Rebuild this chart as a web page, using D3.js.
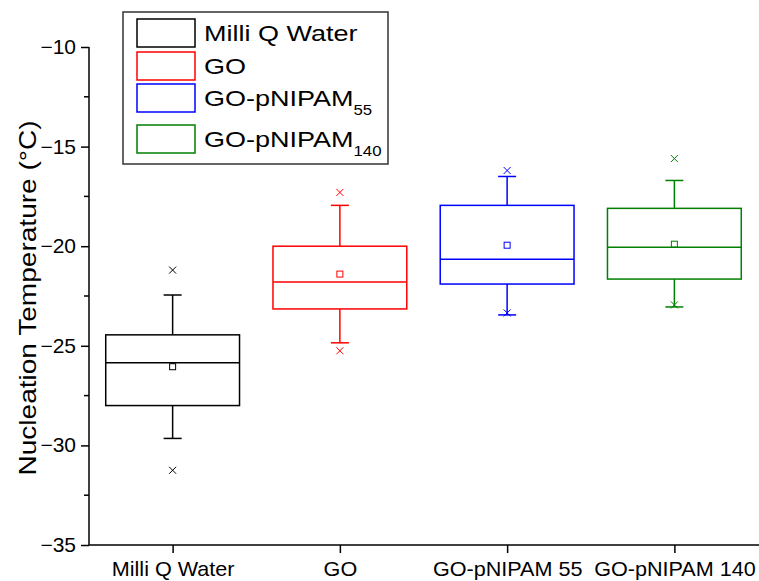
<!DOCTYPE html>
<html>
<head>
<meta charset="utf-8">
<script src="https://cdn.jsdelivr.net/npm/d3@7"></script>
<style>
  body { margin: 0; background: #fff; }
  svg { display: block; font-family: "Liberation Sans", Arial, sans-serif; }
</style>
</head>
<body>
<svg id="chart" width="759" height="581"></svg>
<script>
// categories and colours
var categories = ["Milli Q Water", "GO", "GO-pNIPAM 55", "GO-pNIPAM 140"];
var colors = ["#000000", "#ff0000", "#0000ff", "#008000"];

// box statistics (°C)
var q1 = [-28.0, -23.15, -21.9, -21.65];
var median = [-25.85, -21.8, -20.65, -20.05];
var q3 = [-24.45, -20.0, -17.95, -18.1];
var whiskerLow = [-29.65, -24.85, -23.45, -23.05];
var whiskerHigh = [-22.45, -17.95, -16.5, -16.7];
var mean = [-26.05, -21.4, -19.95, -19.9];
var minPt = [-31.25, -25.25, -23.35, -22.95];
var maxPt = [-21.2, -17.3, -16.2, -15.6];

var yTicks = [-35, -30, -25, -20, -15, -10];
var yMinor = [-32.5, -27.5, -22.5, -17.5, -12.5];

var svg = d3.select("#chart");

var x = d3.scaleLinear().domain([0.5, 4.5]).range([89, 758]);
var y = d3.scaleLinear().domain([-35, -10]).range([545, 47]);

var boxW = x(1.4) - x(0.6);
var capW = 18;

// the original text is a little wider than Arial
function widen(sel, s) {
  sel.each(function() {
    var t = d3.select(this);
    var tx = +t.attr("x") || 0, ty = +t.attr("y") || 0;
    t.attr("x", 0).attr("y", 0)
      .attr("transform", "translate(" + tx + "," + ty + ") scale(" + s + ",1)");
  });
}

// axes
var yAxis = svg.append("g").attr("transform", "translate(89,0)")
  .call(d3.axisLeft(y).tickValues(yTicks).tickSize(8).tickPadding(5).tickFormat(d3.format("d")));
yAxis.select(".domain").attr("d", "M0," + y(-10) + "V" + y(-35)).attr("stroke-width", 1.5);
yAxis.selectAll(".tick line").attr("stroke-width", 1.5);
yAxis.selectAll(".tick text").attr("font-size", 20).attr("fill", "#000")
  .attr("font-family", "Liberation Sans, Arial, sans-serif");
widen(yAxis.selectAll(".tick text"), 1.05);

svg.append("g").selectAll("line").data(yMinor).enter().append("line")
  .attr("x1", 84).attr("x2", 89)
  .attr("y1", function(d) { return y(d); }).attr("y2", function(d) { return y(d); })
  .attr("stroke", "#000").attr("stroke-width", 1.5);

var xAxis = svg.append("g").attr("transform", "translate(0,545)")
  .call(d3.axisBottom(x).tickValues([1, 2, 3, 4]).tickSize(8).tickPadding(9)
    .tickFormat(function(d) { return categories[d - 1]; }));
xAxis.select(".domain").attr("d", "M89,0H759").attr("stroke-width", 1.5);
xAxis.selectAll(".tick line").attr("stroke-width", 1.5);
xAxis.selectAll(".tick text").attr("font-size", 20).attr("fill", "#000")
  .attr("font-family", "Liberation Sans, Arial, sans-serif");
widen(xAxis.selectAll(".tick text"), 1.08);

svg.append("text")
  .attr("transform", "translate(36," + y(-22.6) + ") rotate(-90) scale(1.22,1)")
  .attr("text-anchor", "middle")
  .attr("font-size", 23)
  .text("Nucleation Temperature (°C)");

// boxes
var idx = d3.range(categories.length);
var boxes = svg.append("g").selectAll("g").data(idx).enter().append("g")
  .attr("stroke", function(i) { return colors[i]; })
  .attr("fill", "none")
  .attr("stroke-width", 1.5);

boxes.append("line")
  .attr("x1", function(i) { return x(i + 1); }).attr("x2", function(i) { return x(i + 1); })
  .attr("y1", function(i) { return y(whiskerHigh[i]); }).attr("y2", function(i) { return y(q3[i]); });
boxes.append("line")
  .attr("x1", function(i) { return x(i + 1); }).attr("x2", function(i) { return x(i + 1); })
  .attr("y1", function(i) { return y(q1[i]); }).attr("y2", function(i) { return y(whiskerLow[i]); });
boxes.append("line")
  .attr("x1", function(i) { return x(i + 1) - capW / 2; }).attr("x2", function(i) { return x(i + 1) + capW / 2; })
  .attr("y1", function(i) { return y(whiskerHigh[i]); }).attr("y2", function(i) { return y(whiskerHigh[i]); });
boxes.append("line")
  .attr("x1", function(i) { return x(i + 1) - capW / 2; }).attr("x2", function(i) { return x(i + 1) + capW / 2; })
  .attr("y1", function(i) { return y(whiskerLow[i]); }).attr("y2", function(i) { return y(whiskerLow[i]); });
boxes.append("rect")
  .attr("x", function(i) { return x(i + 1) - boxW / 2; })
  .attr("y", function(i) { return y(q3[i]); })
  .attr("width", boxW)
  .attr("height", function(i) { return y(q1[i]) - y(q3[i]); });
boxes.append("line")
  .attr("x1", function(i) { return x(i + 1) - boxW / 2; }).attr("x2", function(i) { return x(i + 1) + boxW / 2; })
  .attr("y1", function(i) { return y(median[i]); }).attr("y2", function(i) { return y(median[i]); });

// mean squares
boxes.append("rect")
  .attr("x", function(i) { return x(i + 1) - 3; })
  .attr("y", function(i) { return y(mean[i]) - 3; })
  .attr("width", 6).attr("height", 6)
  .attr("stroke-width", 1);

// min / max crosses
function cross(sel, vals) {
  sel.append("path")
    .attr("stroke-width", 1)
    .attr("d", function(i) {
      var cx = x(i + 1), cy = y(vals[i]), s = 3.5;
      return "M" + (cx - s) + "," + (cy - s) + "L" + (cx + s) + "," + (cy + s) +
             "M" + (cx - s) + "," + (cy + s) + "L" + (cx + s) + "," + (cy - s);
    });
}
cross(boxes, minPt);
cross(boxes, maxPt);

// legend
var legend = svg.append("g");
legend.append("rect").attr("x", 123).attr("y", 12).attr("width", 265).attr("height", 152)
  .attr("fill", "#fff").attr("stroke", "#333").attr("stroke-width", 1.5);
var legendNames = ["Milli Q Water", "GO", "GO-pNIPAM", "GO-pNIPAM"];
var legendSubs = ["", "", "55", "140"];
var swatchY = [19, 52, 84, 125];
var rows = legend.selectAll("g.row").data(idx).enter().append("g").attr("class", "row");
rows.append("rect")
  .attr("x", 137).attr("y", function(i) { return swatchY[i]; })
  .attr("width", 58).attr("height", 28)
  .attr("fill", "none").attr("stroke", function(i) { return colors[i]; }).attr("stroke-width", 1.5);
var lt = rows.append("text")
  .attr("transform", function(i) { return "translate(204," + (swatchY[i] + 22) + ") scale(1.2,1)"; })
  .attr("font-size", 22.5).attr("fill", "#000");
lt.append("tspan").text(function(i) { return legendNames[i]; });
lt.append("tspan").attr("font-size", 14).attr("dy", 9).text(function(i) { return legendSubs[i]; });
</script>
</body>
</html>
